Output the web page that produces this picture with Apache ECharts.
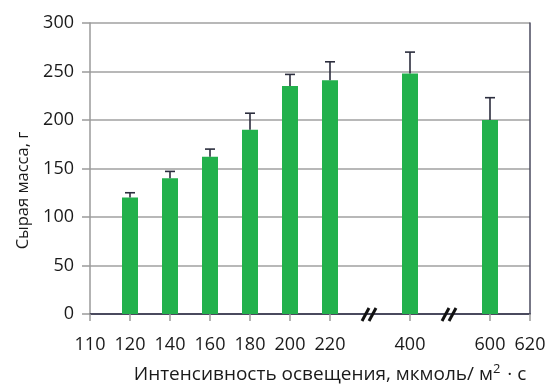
<!DOCTYPE html>
<html><head><meta charset="utf-8">
<script src="https://cdn.jsdelivr.net/npm/echarts@6/dist/echarts.min.js"></script>
<style>html,body{margin:0;padding:0;background:#fff}#c{width:547px;height:385px}</style>
</head><body><div id="c"></div>
<script>
var categories = ['110','120','140','160','180','200','220','','400','','600','620'];
var values = [null,120,140,162,190,235,241,null,248,null,200,null];
var errors = [null,5,7,8,17,12,19,null,22,null,23,null];
var breakIdx = [7,9];
var yTicks = {min:0,max:300,interval:50};

var errData = [];
values.forEach(function(v,i){ if(v!=null) errData.push([i,v,errors[i]]); });
var font = '"Open Sans", "Noto Sans", sans-serif';
var chart = echarts.init(document.getElementById('c'));
chart.setOption({
  animation:false,
  grid:{left:90,right:17,top:23,bottom:71,outerBoundsMode:'none',containLabel:false},
  xAxis:[{
    type:'category', data:categories, boundaryGap:false,
    axisLine:{lineStyle:{color:'#9a9a9a',width:1.5}},
    axisTick:{length:7,lineStyle:{color:'#9a9a9a',width:1.5},interval:function(i){return breakIdx.indexOf(i)<0;}},
    axisLabel:{interval:0,color:'#1a1a1a',fontSize:18,fontFamily:font,margin:22},
    splitLine:{show:false},
    name:'Интенсивность освещения, мкмоль/ м{sup|2} · с',
    nameLocation:'middle', nameGap:49,
    nameTextStyle:{color:'#1a1a1a',fontSize:19,fontFamily:font,padding:[0,0,0,40],rich:{sup:{fontSize:13,verticalAlign:'top',padding:[0,2,10,0],fontFamily:font,color:'#1a1a1a'}}}
  },{
    type:'category', data:categories, boundaryGap:false, position:'top',
    axisLine:{lineStyle:{color:'#4a4a5e',width:2}}, axisTick:{show:false}, axisLabel:{show:false}
  }],
  yAxis:[{
    type:'value', min:yTicks.min, max:yTicks.max, interval:yTicks.interval,
    axisLine:{show:true,lineStyle:{color:'#9a9a9a',width:1.5}},
    axisTick:{show:true,length:8,lineStyle:{color:'#9a9a9a',width:1.5}},
    axisLabel:{color:'#1a1a1a',fontSize:18,fontFamily:font,margin:16},
    splitLine:{lineStyle:{color:'#a0a0a0',width:1.5}},
    name:'Сырая масса, г', nameLocation:'middle', nameGap:58,
    nameTextStyle:{color:'#1a1a1a',fontSize:16.5,fontFamily:font,padding:[0,44,0,0]}
  },{
    type:'value', min:yTicks.min, max:yTicks.max, interval:yTicks.interval, position:'right',
    axisLine:{show:true,lineStyle:{color:'#4a4a5e',width:1.5}}, axisTick:{show:false}, axisLabel:{show:false}, splitLine:{show:false}
  }],
  series:[{
    type:'bar', data:values, barWidth:16, itemStyle:{color:'#22b14c'}
  },{
    type:'custom', data:errData, z:5,
    renderItem:function(params,api){
      var top = api.coord([api.value(0), api.value(1)+api.value(2)]);
      var base = api.coord([api.value(0), api.value(1)]);
      var s = {stroke:'#2c2e3e',lineWidth:1.6};
      return {type:'group',children:[
        {type:'line',shape:{x1:top[0],y1:top[1],x2:base[0],y2:base[1]},style:s},
        {type:'line',shape:{x1:top[0]-5,y1:top[1],x2:top[0]+5,y2:top[1]},style:s}
      ]};
    }
  },{
    type:'custom', data:breakIdx.map(function(i){return [i,0];}), z:6, clip:false,
    renderItem:function(params,api){
      var p = api.coord([api.value(0), api.value(1)]);
      var s = {stroke:'#111',lineWidth:3};
      return {type:'group',children:[
        {type:'line',shape:{x1:p[0]-8,y1:p[1]+7,x2:p[0]-1,y2:p[1]-6},style:s},
        {type:'line',shape:{x1:p[0]-1,y1:p[1]+7,x2:p[0]+6,y2:p[1]-6},style:s}
      ]};
    }
  }]
});
</script></body></html>
